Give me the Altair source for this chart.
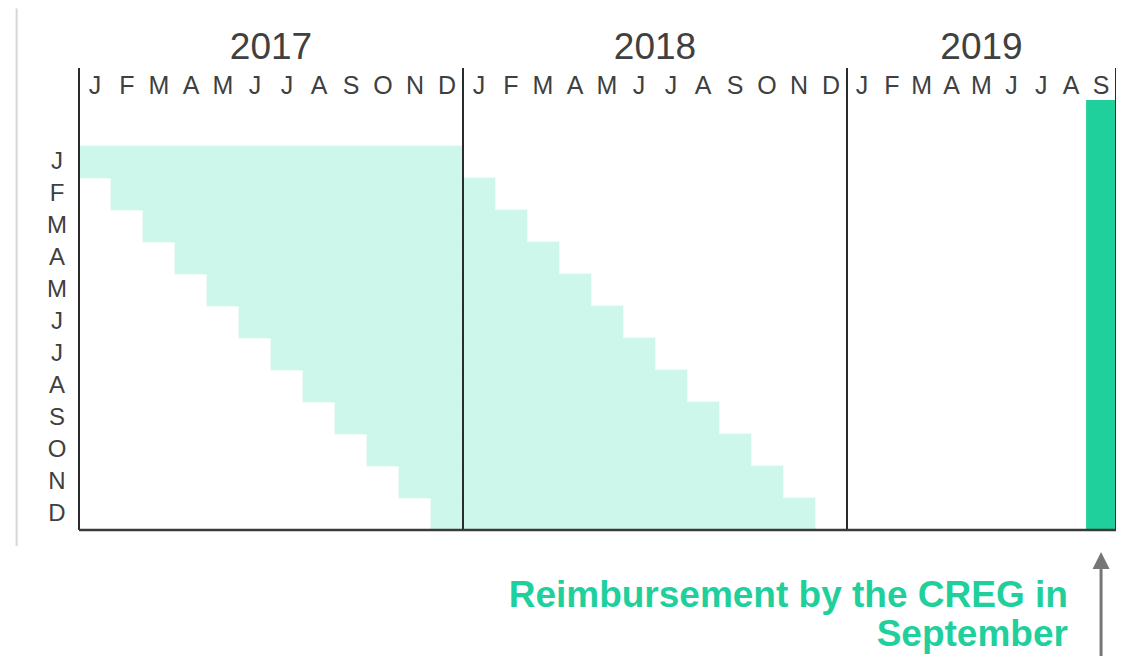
import altair as alt
import pandas as pd

# ---- data ----
years = ["2017", "2018", "2019"]
year_first_month = [0, 12, 24]      # month index (0 = Jan 2017)
year_last_month = [12, 24, 33]      # exclusive end (2019 shown up to September)
month_letters = ["J", "F", "M", "A", "M", "J", "J", "A", "S", "O", "N", "D"]
months_shown_2019 = 9

consumption_rows = ["J", "F", "M", "A", "M", "J", "J", "A", "S", "O", "N", "D"]
billing_start = [0, 1, 2, 3, 4, 5, 6, 7, 8, 9, 10, 11]
billing_end = [12, 13, 14, 15, 16, 17, 18, 19, 20, 21, 22, 23]

reimbursement_month = [32]          # September 2019
annotation_lines = ["Reimbursement by the CREG in", "September"]

# ---- layout constants (row units: 0 = top of J row, 12 = bottom of D row) ----
TOP = -2.4375
BAR_TOP = -1.4375
MONTH_ROW = -1.875
YEAR_ROW = -3.06
LABEL_X = -0.6875
ANNOT_X = 31.39
ANNOT_Y = [14.406, 15.625]

LIGHT = "#CDF7EA"
GREEN = "#1FCF9C"
INK = "#404040"
FONT = "Liberation Sans"

xs = alt.Scale(domain=[0, 24, 33], range=[0, 768, 1037])
ys = alt.Scale(domain=[TOP, 12], reverse=True)

fills = pd.DataFrame({
    "row": consumption_rows,
    "x": billing_start,
    "x2": billing_end,
    "y": list(range(12)),
    "y2": [i + 1 for i in range(12)],
})

reimb = pd.DataFrame({"x": reimbursement_month,
                      "x2": [m + 1 for m in reimbursement_month],
                      "y": [BAR_TOP], "y2": [12]})

vlines = pd.DataFrame({"x": [year_first_month[0]] + year_last_month,
                       "y": [TOP] * 4, "y2": [12] * 4})
hline = pd.DataFrame({"x": [0], "x2": [year_last_month[-1]], "y": [12]})

mlab = []
for yi, y in enumerate(years):
    n = 12 if yi < 2 else months_shown_2019
    for k in range(n):
        mlab.append({"x": year_first_month[yi] + k + 0.5, "y": MONTH_ROW, "t": month_letters[k]})
mlab = pd.DataFrame(mlab)

ylab = pd.DataFrame({"x": [(a + b) / 2 for a, b in zip(year_first_month, year_last_month)],
                     "y": [YEAR_ROW] * 3, "t": years})

rlab = pd.DataFrame({"x": [LABEL_X] * 12, "y": [i + 0.5 for i in range(12)], "t": consumption_rows})

annot = pd.DataFrame({"x": [ANNOT_X] * 2, "y": ANNOT_Y, "t": annotation_lines})

arrow_line = pd.DataFrame({"x": [32.5], "y": [13.22], "y2": [16.3]})
arrow_head = pd.DataFrame({"x": [32.5], "y": [12.955]})
border = pd.DataFrame({"x": [-1.95], "y": [-4.3], "y2": [12.5]})

X = lambda f="x": alt.X(f"{f}:Q", scale=xs, axis=None)
Y = lambda f="y": alt.Y(f"{f}:Q", scale=ys, axis=None)

l_fill = alt.Chart(fills).mark_rect(color=LIGHT, stroke=LIGHT, strokeWidth=0.6).encode(
    x=X(), x2="x2:Q", y=Y(), y2="y2:Q")
l_reimb = alt.Chart(reimb).mark_rect(color=GREEN).encode(x=X(), x2="x2:Q", y=Y(), y2="y2:Q")
l_vl = alt.Chart(vlines).mark_rule(color="#2b2b2b", strokeWidth=2).encode(x=X(), y=Y(), y2="y2:Q")
l_hl = alt.Chart(hline).mark_rule(color="#3a3a3a", strokeWidth=2.5).encode(x=X(), x2="x2:Q", y=Y())
l_ml = alt.Chart(mlab).mark_text(font=FONT, fontSize=25, color=INK, baseline="middle", align="center").encode(
    x=X(), y=Y(), text="t:N")
l_yl = alt.Chart(ylab).mark_text(font=FONT, fontSize=37, color=INK, baseline="middle", align="center").encode(
    x=X(), y=Y(), text="t:N")
l_rl = alt.Chart(rlab).mark_text(font=FONT, fontSize=24, color=INK, baseline="middle", align="center").encode(
    x=X(), y=Y(), text="t:N")
l_an = alt.Chart(annot).mark_text(font=FONT, fontSize=37, fontWeight="bold", color=GREEN,
                                  baseline="alphabetic", align="right").encode(x=X(), y=Y(), text="t:N")
l_al = alt.Chart(arrow_line).mark_rule(color="#767676", strokeWidth=3).encode(x=X(), y=Y(), y2="y2:Q")
l_ah = alt.Chart(arrow_head).mark_point(shape="M-1,1L0,-1L1,1Z", size=289, filled=True,
                                        color="#767676", opacity=1).encode(x=X(), y=Y())
l_bd = alt.Chart(border).mark_rule(color="#D6D6D6", strokeWidth=2).encode(x=X(), y=Y(), y2="y2:Q")

chart = alt.layer(l_bd, l_fill, l_reimb, l_vl, l_hl, l_ml, l_yl, l_rl, l_an, l_al, l_ah).properties(
    width=1037, height=462,
    autosize=alt.AutoSizeParams(type="none"),
    padding={"left": 71, "top": 60, "right": 0, "bottom": 126},
    background="white",
).configure_view(stroke=None)

chart.save("out.html", embed_options={"renderer": "svg", "actions": False})
